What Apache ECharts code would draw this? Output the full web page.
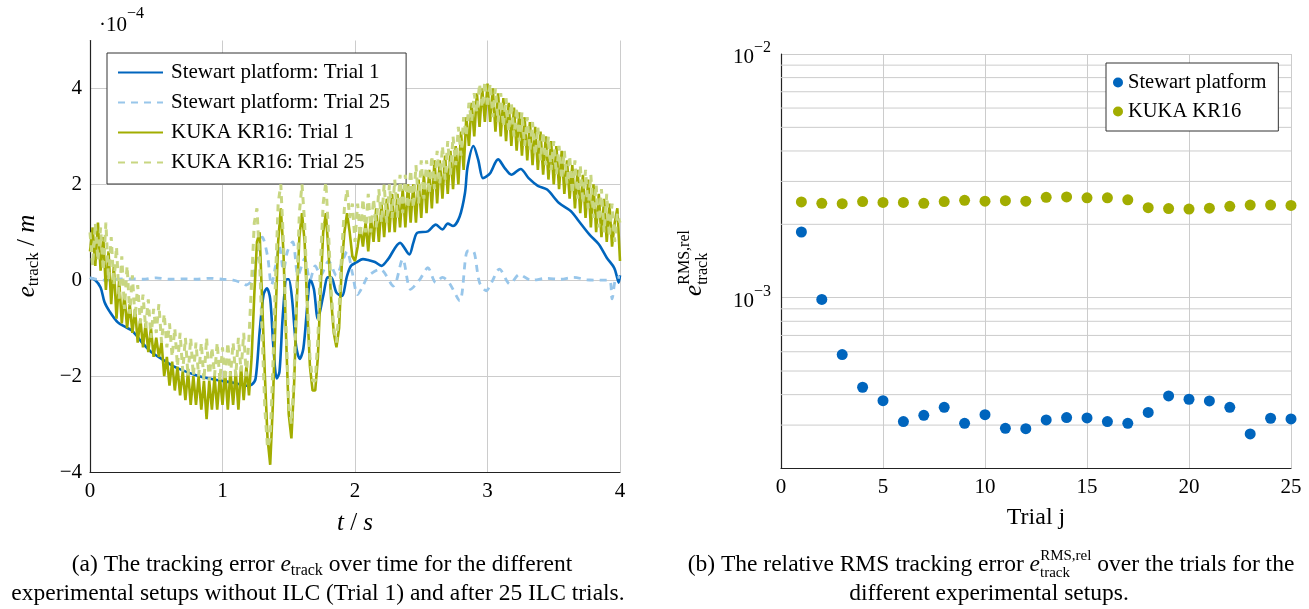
<!DOCTYPE html>
<html>
<head>
<meta charset="utf-8">
<script src="https://cdn.jsdelivr.net/npm/echarts@6/dist/echarts.min.js"></script>
<style>
html,body{margin:0;padding:0;background:#fff;}
#chart{width:1309px;height:609px;}
</style>
</head>
<body>
<div id="chart"></div>
<script>
// ---------- Left chart data (tracking error, units of 1e-4 m) ----------
const legendLeft = ['Stewart platform: Trial 1', 'Stewart platform: Trial 25', 'KUKA KR16: Trial 1', 'KUKA KR16: Trial 25'];
const timeTicks = [0, 1, 2, 3, 4];
const errorTicks = [-4, -2, 0, 2, 4];

const stewart1Time = [0.00,0.04,0.08,0.11,0.15,0.21,0.27,0.31,0.35,0.39,0.46,0.54,0.62,0.70,0.80,0.90,1.00,1.10,1.18,1.22,1.25,1.28,1.31,1.335,1.36,1.385,1.41,1.43,1.455,1.485,1.50,1.525,1.555,1.583,1.61,1.64,1.663,1.69,1.72,1.76,1.795,1.82,1.86,1.90,1.94,1.97,2.01,2.06,2.10,2.15,2.20,2.25,2.34,2.41,2.44,2.47,2.55,2.61,2.66,2.70,2.74,2.79,2.83,2.85,2.894,2.93,2.965,2.99,3.02,3.08,3.13,3.18,3.25,3.31,3.38,3.45,3.54,3.63,3.69,3.77,3.84,3.90,3.956,3.975,3.99,4.00];
const stewart1Value = [0.05,0.0,-0.15,-0.46,-0.66,-0.88,-0.98,-1.04,-1.15,-1.29,-1.49,-1.64,-1.78,-1.88,-1.98,-2.05,-2.10,-2.15,-2.20,-2.18,-2.05,-1.08,-0.30,-0.17,-0.39,-1.43,-2.05,-1.91,-0.74,0.02,0.02,-0.39,-1.36,-1.64,-1.43,-0.53,0.02,-0.19,-0.81,-0.33,0.06,0.06,-0.26,-0.33,0.09,0.30,0.37,0.44,0.42,0.38,0.30,0.44,0.78,0.54,0.78,0.99,1.02,1.16,1.06,1.18,1.13,1.33,1.82,2.37,2.80,2.51,2.13,2.16,2.23,2.52,2.34,2.20,2.32,2.13,1.97,1.89,1.61,1.44,1.23,0.95,0.75,0.47,0.26,0.09,-0.05,0.10];

const stewart25Time = [0.00,0.10,0.20,0.30,0.40,0.50,0.60,0.70,0.80,0.90,1.00,1.08,1.14,1.18,1.22,1.26,1.30,1.34,1.37,1.40,1.43,1.46,1.49,1.53,1.57,1.62,1.66,1.70,1.74,1.80,1.86,1.90,1.94,1.98,2.02,2.06,2.10,2.19,2.29,2.36,2.42,2.49,2.55,2.61,2.66,2.71,2.79,2.85,2.89,2.94,2.99,3.03,3.09,3.17,3.24,3.33,3.45,3.55,3.65,3.75,3.85,3.92,3.94,3.97,4.00];
const stewart25Value = [0.05,0.0,0.02,0.03,0.02,0.05,0.02,0.03,0.02,0.04,0.02,0.0,-0.05,-0.10,0.0,0.5,0.9,0.5,-0.1,0.3,0.7,0.2,0.6,0.8,0.1,0.45,0.0,0.3,0.1,0.4,0.1,0.35,0.6,0.15,-0.3,-0.12,0.09,0.23,-0.12,0.44,-0.19,0.02,0.26,-0.05,0.06,-0.05,-0.43,0.61,0.61,-0.05,-0.22,-0.05,0.23,-0.08,0.12,0.0,0.04,0.02,0.06,0.01,0.0,0.0,-0.39,0.05,0.06];

// KUKA signals sampled every 0.02 s (t = 0 ... 4 s)
const kukaSamplePeriod = 0.02;
const kuka1Value = [
  0.6, 1.1, 0.3, 1.2, 0.2, 0.9, -0.2, 0.6, -0.5, 0.3,
  -0.8, 0.0, -0.9, -0.3, -1.0, -0.5, -1.1, -0.6, -1.3, -0.8,
  -1.4, -0.9, -1.5, -1.0, -1.6, -1.2, -1.6, -1.3, -2.0, -1.6,
  -2.2, -1.7, -2.3, -1.8, -2.4, -1.9, -2.5, -1.9, -2.6, -2.0,
  -2.6, -2.0, -2.7, -2.1, -2.9, -2.1, -2.7, -2.0, -2.7, -2.0,
  -2.6, -1.9, -2.7, -1.9, -2.6, -1.9, -2.7, -1.8, -2.5, -1.8,
  -2.4, -1.6, -0.3, 0.8, 1.0, -0.5, -2.0, -3.3, -3.85, -2.6,
  -0.8, 0.8, 1.5, 0.6, -1.2, -2.8, -3.3, -2.2, -0.5, 0.9,
  1.4, 0.8, -0.6, -1.8, -2.3, -2.3, -1.6, -0.2, 1.0, 1.4,
  0.6, -0.4, -1.1, -1.4, -1.0, 0.3, 1.0, 1.4, 1.0, 0.5,
  0.4, 0.7, 1.1, 0.7, 1.2, 0.6, 1.3, 0.8, 1.5, 0.8,
  1.6, 0.9, 1.7, 1.0, 1.8, 1.0, 1.8, 1.1, 1.9, 1.1,
  2.0, 1.2, 2.0, 1.2, 2.1, 1.3, 2.2, 1.4, 2.3, 1.5,
  2.5, 1.6, 2.5, 1.7, 2.6, 1.8, 2.7, 1.9, 2.8, 2.0,
  3.1, 2.3, 3.4, 2.8, 3.7, 3.0, 3.9, 3.2, 4.0, 3.3,
  4.1, 3.3, 4.0, 3.1, 3.9, 3.0, 3.8, 2.9, 3.7, 2.8,
  3.6, 2.7, 3.5, 2.6, 3.4, 2.5, 3.3, 2.4, 3.2, 2.3,
  3.1, 2.2, 3.0, 2.1, 2.9, 2.0, 2.8, 1.9, 2.7, 1.8,
  2.5, 1.7, 2.4, 1.5, 2.3, 1.4, 2.2, 1.3, 2.1, 1.1,
  2.0, 1.0, 1.8, 0.9, 1.7, 0.8, 1.6, 0.7, 1.2, 1.5,
  0.4
];
const kuka25Value = [
  1.0, 0.3, 1.2, 0.4, 1.1, 0.2, 1.2, 0.0, 0.9, -0.1,
  0.7, -0.4, 0.5, -0.6, 0.3, -0.7, 0.1, -0.8, -0.1, -0.9,
  -0.3, -1.0, -0.4, -1.2, -0.6, -1.1, -0.5, -1.3, -0.7, -1.4,
  -0.9, -1.6, -1.0, -1.8, -1.1, -1.9, -1.2, -2.0, -1.2, -2.0,
  -1.3, -2.0, -1.3, -2.1, -1.2, -2.1, -1.4, -2.0, -1.3, -2.1,
  -1.4, -2.1, -1.3, -2.0, -1.3, -2.0, -1.2, -1.9, -1.1, -2.0,
  -1.2, 0.0, 1.2, 1.5, 0.4, -1.2, -2.7, -3.5, -3.3, -1.8,
  0.0, 1.6, 2.0, 0.8, -1.0, -2.6, -3.0, -2.0, -0.2, 1.4,
  2.0, 1.2, -0.4, -1.6, -2.1, -2.1, -1.2, 0.4, 1.6, 2.05,
  1.0, -0.2, -1.0, -1.3, -0.6, 0.6, 1.5, 1.9, 1.3, 1.6,
  0.8, 1.6, 0.9, 1.7, 1.0, 1.8, 1.0, 1.7, 1.1, 1.9,
  1.2, 2.0, 1.2, 2.0, 1.3, 2.1, 1.3, 2.2, 1.4, 2.2,
  1.5, 2.3, 1.5, 2.4, 1.6, 2.5, 1.7, 2.5, 1.8, 2.6,
  1.9, 2.7, 2.0, 2.8, 2.1, 2.9, 2.2, 3.0, 2.4, 3.2,
  2.6, 3.4, 3.0, 3.7, 3.3, 3.9, 3.5, 4.1, 3.6, 4.15,
  3.6, 4.1, 3.4, 4.0, 3.3, 3.9, 3.2, 3.8, 3.1, 3.7,
  3.0, 3.6, 2.9, 3.5, 2.8, 3.4, 2.7, 3.3, 2.6, 3.2,
  2.5, 3.1, 2.4, 3.0, 2.3, 2.9, 2.2, 2.8, 2.1, 2.7,
  2.0, 2.6, 1.8, 2.5, 1.7, 2.4, 1.6, 2.3, 1.5, 2.2,
  1.3, 2.0, 1.1, 1.9, 1.0, 1.8, 0.9, 1.6, 0.8, 1.4,
  1.2
];

// ---------- Right chart data (relative RMS error per trial) ----------
const legendRight = ['Stewart platform', 'KUKA KR16'];
const trials = [1,2,3,4,5,6,7,8,9,10,11,12,13,14,15,16,17,18,19,20,21,22,23,24,25];
const trialTicks = [0, 5, 10, 15, 20, 25];
const stewartRms = [1.86e-3,9.84e-4,5.84e-4,4.29e-4,3.78e-4,3.10e-4,3.29e-4,3.55e-4,3.05e-4,3.31e-4,2.91e-4,2.90e-4,3.15e-4,3.22e-4,3.21e-4,3.10e-4,3.05e-4,3.38e-4,3.95e-4,3.83e-4,3.77e-4,3.55e-4,2.76e-4,3.20e-4,3.18e-4];
const kukaRms = [2.47e-3,2.44e-3,2.43e-3,2.48e-3,2.46e-3,2.46e-3,2.44e-3,2.48e-3,2.51e-3,2.49e-3,2.50e-3,2.49e-3,2.58e-3,2.59e-3,2.57e-3,2.57e-3,2.52e-3,2.34e-3,2.32e-3,2.31e-3,2.33e-3,2.37e-3,2.40e-3,2.40e-3,2.39e-3];
const logMinorLines = [3e-4,4e-4,5e-4,6e-4,7e-4,8e-4,9e-4,2e-3,3e-3,4e-3,5e-3,6e-3,7e-3,8e-3,9e-3];

// ---------- Build ----------
const FONT = 'Liberation Serif';
const BLUE = '#0065bd', LBLUE = '#98c6ea', OLIVE = '#a2ad00', LOLIVE = '#c8d681';
const GRID_C = '#cccccc';

const pairs = (xs, ys) => xs.map((x, i) => [x, ys[i]]);
const sampled = (ys) => ys.map((y, i) => [+(i * kukaSamplePeriod).toFixed(2), y]);
const minus = (v) => (v < 0 ? '\u2212' + (-v) : String(v));

const chart = echarts.init(document.getElementById('chart'), null, {renderer: 'canvas'});

// minor log grid lines drawn as plain line series in the right grid
const minorGridSeries = logMinorLines.map((v) => ({
  type: 'line', xAxisIndex: 1, yAxisIndex: 1, silent: true, symbol: 'none', showSymbol: false,
  data: [[trialTicks[0], v], [trialTicks[trialTicks.length - 1], v]],
  lineStyle: {color: GRID_C, width: 1}, z: 1, tooltip: {show: false}
}));

// rich text token styles (all left-placed so stacked sub/sup works)
const tok = (size, extra) => Object.assign({fontFamily: FONT, fontSize: size, fill: '#000', align: 'left'}, extra || {});

const option = {
  backgroundColor: '#ffffff',
  animation: false,
  textStyle: {fontFamily: FONT, color: '#000'},
  grid: [
    {left: 90, top: 40.5, width: 530, height: 431.5},
    {left: 781, top: 54, width: 510, height: 414}
  ],
  xAxis: [
    {
      type: 'value', gridIndex: 0, min: timeTicks[0], max: timeTicks[timeTicks.length - 1], interval: 1,
      axisLine: {onZero: false, lineStyle: {color: '#222', width: 1.2}},
      axisTick: {show: false},
      axisLabel: {fontFamily: FONT, fontSize: 21, color: '#000', margin: 9},
      splitLine: {show: true, lineStyle: {color: GRID_C, width: 1}}
    },
    {
      type: 'value', gridIndex: 1, min: trialTicks[0], max: trialTicks[trialTicks.length - 1], interval: 5,
      axisLine: {onZero: false, lineStyle: {color: '#222', width: 1.2}},
      axisTick: {show: false},
      axisLabel: {fontFamily: FONT, fontSize: 21, color: '#000', margin: 9},
      splitLine: {show: true, lineStyle: {color: GRID_C, width: 1}}
    }
  ],
  yAxis: [
    {
      type: 'value', gridIndex: 0, min: errorTicks[0], max: 5, interval: 1,
      axisLine: {show: true, onZero: false, lineStyle: {color: '#222', width: 1.2}},
      axisTick: {show: false},
      axisLabel: {
        fontFamily: FONT, fontSize: 21, color: '#000', margin: 8,
        formatter: (v) => (errorTicks.indexOf(v) >= 0 ? minus(v) : '')
      },
      splitLine: {show: true, lineStyle: {color: [GRID_C, 'rgba(0,0,0,0)'], width: 1}}
    },
    {
      type: 'log', gridIndex: 1, logBase: 10, min: 2e-4, max: 1e-2,
      axisLine: {show: true, onZero: false, lineStyle: {color: '#222', width: 1.2}},
      axisTick: {show: false},
      axisLabel: {
        margin: 10,
        formatter: (v) => {
          const e = Math.log10(v);
          if (Math.abs(e - Math.round(e)) > 1e-6) return '';
          return '{b|10}{s|' + minus(Math.round(e)) + '}';
        },
        rich: {
          b: {fontFamily: FONT, fontSize: 21, color: '#000', lineHeight: 28, verticalAlign: 'bottom'},
          s: {fontFamily: FONT, fontSize: 16, color: '#000', lineHeight: 16, verticalAlign: 'top'}
        }
      },
      splitLine: {show: true, lineStyle: {color: GRID_C, width: 1}}
    }
  ],
  legend: [
    {
      data: legendLeft, orient: 'vertical', left: 107, top: 53,
      padding: [9, 16, 11, 10], itemGap: 9, itemWidth: 45, itemHeight: 14,
      backgroundColor: '#fff', borderColor: '#333', borderWidth: 1, borderRadius: 0,
      itemStyle: {opacity: 0},
      textStyle: {fontFamily: FONT, fontSize: 21, color: '#000', lineHeight: 20, padding: [0, 0, 0, 3]},
      selectedMode: false
    },
    {
      data: legendRight, orient: 'vertical', left: 1106, top: 63,
      padding: [9, 12, 9, 7], itemGap: 8, itemWidth: 10, itemHeight: 10, icon: 'circle',
      backgroundColor: '#fff', borderColor: '#333', borderWidth: 1, borderRadius: 0,
      textStyle: {fontFamily: FONT, fontSize: 20.5, color: '#000', lineHeight: 20},
      selectedMode: false
    }
  ],
  series: [
    {
      name: legendLeft[0], type: 'line', xAxisIndex: 0, yAxisIndex: 0, showSymbol: false, symbol: 'none',
      data: pairs(stewart1Time, stewart1Value), smooth: 0.3,
      lineStyle: {color: BLUE, width: 2.6}, itemStyle: {color: BLUE}, z: 2
    },
    {
      name: legendLeft[1], type: 'line', xAxisIndex: 0, yAxisIndex: 0, showSymbol: false, symbol: 'none',
      data: pairs(stewart25Time, stewart25Value), smooth: 0.3,
      lineStyle: {color: LBLUE, width: 2.8, type: [7, 6]}, itemStyle: {color: LBLUE}, z: 2
    },
    {
      name: legendLeft[2], type: 'line', xAxisIndex: 0, yAxisIndex: 0, showSymbol: false, symbol: 'none',
      data: sampled(kuka1Value),
      lineStyle: {color: OLIVE, width: 2.6}, itemStyle: {color: OLIVE}, z: 3
    },
    {
      name: legendLeft[3], type: 'line', xAxisIndex: 0, yAxisIndex: 0, showSymbol: false, symbol: 'none',
      data: sampled(kuka25Value),
      lineStyle: {color: LOLIVE, width: 3, type: [7, 6]}, itemStyle: {color: LOLIVE}, z: 4
    },
    {
      name: legendRight[0], type: 'scatter', xAxisIndex: 1, yAxisIndex: 1, symbol: 'circle', symbolSize: 11,
      data: pairs(trials, stewartRms), itemStyle: {color: BLUE, opacity: 1}, z: 5
    },
    {
      name: legendRight[1], type: 'scatter', xAxisIndex: 1, yAxisIndex: 1, symbol: 'circle', symbolSize: 11,
      data: pairs(trials, kukaRms), itemStyle: {color: OLIVE, opacity: 1}, z: 5
    }
  ].concat(minorGridSeries),
  graphic: [
    {
      type: 'text', left: 99, top: 6,
      style: {
        text: '{a|\u00b710}{s|\u22124}',
        rich: {
          a: {fontFamily: FONT, fontSize: 21, fill: '#000', lineHeight: 30, verticalAlign: 'bottom'},
          s: {fontFamily: FONT, fontSize: 16, fill: '#000', lineHeight: 16, verticalAlign: 'top'}
        }
      }
    },
    {
      type: 'text', x: 27, y: 256, rotation: Math.PI / 2,
      style: {
        text: '{i|e}{sub|track}{n| / }{i|m}', align: 'center', verticalAlign: 'middle',
        rich: {
          i: tok(25, {fontStyle: 'italic', lineHeight: 30, verticalAlign: 'middle'}),
          n: tok(25, {lineHeight: 30, verticalAlign: 'middle'}),
          sub: tok(17, {lineHeight: 17, verticalAlign: 'bottom'})
        }
      }
    },
    {
      type: 'text', x: 355, y: 523,
      style: {
        text: '{i|t}{n| / }{i|s}', align: 'center', verticalAlign: 'middle',
        rich: {
          i: tok(25, {fontStyle: 'italic'}),
          n: tok(25)
        }
      }
    },
    {
      type: 'text', x: 694, y: 263, rotation: Math.PI / 2,
      style: {
        text: '{i|e}{sub|track}{sup|RMS,rel}', align: 'center', verticalAlign: 'middle',
        rich: {
          i: tok(25, {fontStyle: 'italic', lineHeight: 34, verticalAlign: 'middle'}),
          sub: tok(16, {lineHeight: 16, verticalAlign: 'bottom', width: 0.1}),
          sup: tok(16, {lineHeight: 16, verticalAlign: 'top'})
        }
      }
    },
    {
      type: 'text', x: 1036, y: 518,
      style: {text: 'Trial j', align: 'center', verticalAlign: 'middle', fontFamily: FONT, fontSize: 24, fill: '#000'}
    },
    {
      type: 'text', x: 322, y: 565,
      style: {
        text: '{n|(a) The tracking error }{i|e}{sub|track}{n| over time for the different}',
        align: 'center', verticalAlign: 'middle',
        rich: {
          n: tok(23.5, {lineHeight: 28, verticalAlign: 'middle'}),
          i: tok(23.5, {fontStyle: 'italic', lineHeight: 28, verticalAlign: 'middle'}),
          sub: tok(16, {lineHeight: 16, verticalAlign: 'bottom'})
        }
      }
    },
    {
      type: 'text', x: 318, y: 594,
      style: {text: 'experimental setups without ILC (Trial 1) and after 25 ILC trials.', align: 'center', verticalAlign: 'middle', fontFamily: FONT, fontSize: 23.5, fill: '#000'}
    },
    {
      type: 'text', x: 991, y: 565,
      style: {
        text: '{n|(b) The relative RMS tracking error }{i|e}{sub|track}{sup|RMS,rel}{n| over the trials for the}',
        align: 'center', verticalAlign: 'middle',
        rich: {
          n: tok(23.5, {lineHeight: 32, verticalAlign: 'middle'}),
          i: tok(23.5, {fontStyle: 'italic', lineHeight: 32, verticalAlign: 'middle'}),
          sub: tok(15, {lineHeight: 15, verticalAlign: 'bottom', width: 0.1}),
          sup: tok(15, {lineHeight: 15, verticalAlign: 'top'})
        }
      }
    },
    {
      type: 'text', x: 989, y: 594,
      style: {text: 'different experimental setups.', align: 'center', verticalAlign: 'middle', fontFamily: FONT, fontSize: 23.5, fill: '#000'}
    }
  ]
};
chart.setOption(option);
</script>
</body>
</html>
